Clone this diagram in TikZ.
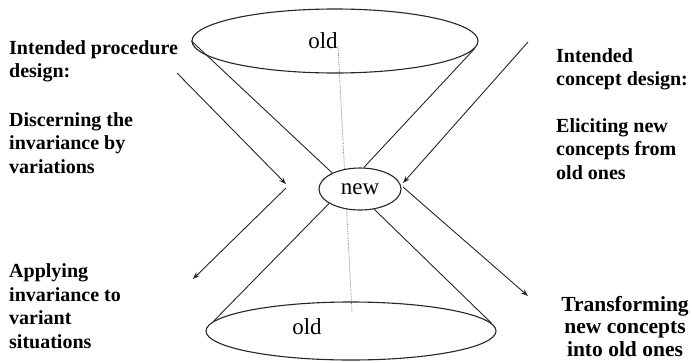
\documentclass[tikz,border=0pt]{standalone}
\usepackage{fontspec}
\setmainfont{Liberation Serif}
\usetikzlibrary{shapes.geometric,arrows.meta}
\begin{document}
\begin{tikzpicture}[x=1pt,y=-1pt,
  conering/.style={draw=black!85, line width=1.1pt, ellipse, inner sep=0pt},
  coneline/.style={draw=black!85, line width=0.9pt},
  flowarrow/.style={draw=black!85, line width=0.9pt, -{Stealth[length=7pt,width=5pt]}},
  lbl/.style={font=\bfseries\fontsize{20}{23.5}\selectfont, align=left, anchor=base west, inner sep=0pt},
  biglbl/.style={font=\bfseries\fontsize{21.5}{22.5}\selectfont, align=center, anchor=base, inner sep=0pt},
  word/.style={font=\fontsize{23}{23}\selectfont, inner sep=0pt, anchor=base}]
\useasboundingbox (0,0) rectangle (692,362);
\coordinate (axtop) at (338,46);
\coordinate (axbot) at (352,312);
\draw[densely dotted, gray, line width=0.8pt] (axtop) -- (axbot);
\node[conering, minimum width=286pt, minimum height=64pt] (top) at (335,41) {};
\node[conering, minimum width=290pt, minimum height=58pt] (bot) at (351,331) {};
\node[conering, fill=white, minimum width=82pt, minimum height=42pt, font=\fontsize{23}{23}\selectfont] (new) at (360,189) {new};
\node[word] (oldtop) at (323,48) {old};
\node[word] (oldbot) at (307,334) {old};
\draw[coneline] (top.west) -- (new.150);
\draw[coneline] (top.-3) -- (new.80);
\draw[coneline] (new.205) -- (bot.176);
\draw[coneline] (new.-55) -- (bot.3);
\coordinate (la1s) at (177,73);
\coordinate (la1e) at (286,184);
\coordinate (la2s) at (286,188);
\coordinate (la2e) at (193,279);
\coordinate (ra1s) at (528,42);
\coordinate (ra1e) at (403,183);
\coordinate (ra2s) at (403,187);
\coordinate (ra2e) at (528,296);
\draw[flowarrow] (la1s) -- (la1e);
\draw[flowarrow] (la2s) -- (la2e);
\draw[flowarrow] (ra1s) -- (ra1e);
\draw[flowarrow] (ra2s) -- (ra2e);
\node[lbl] (left1) at (9,77.5) {Intended procedure\\design:};
\node[lbl] (left2) at (9,173) {Discerning the\\invariance by\\variations};
\node[lbl] (left3) at (9,348) {Applying\\invariance to\\variant\\situations};
\node[lbl] (right1) at (556,85.5) {Intended\\concept design:};
\node[lbl] (right2) at (556,179) {Eliciting new\\concepts from\\old ones};
\node[biglbl] (right3) at (625,356) {Transforming\\new concepts\\into old ones};
\end{tikzpicture}
\end{document}
